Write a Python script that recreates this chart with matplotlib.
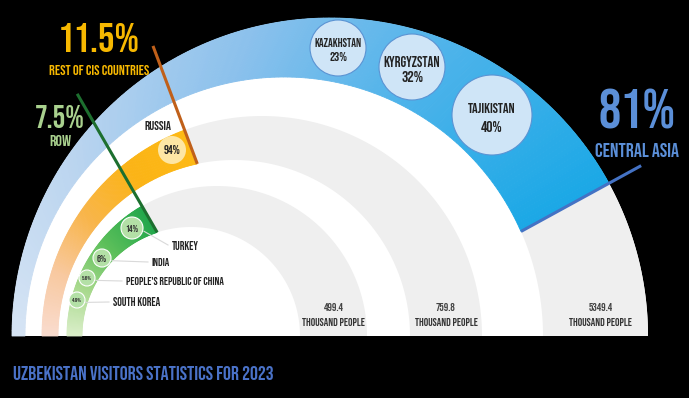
import numpy as np
import matplotlib
matplotlib.use('Agg')
import matplotlib.pyplot as plt
from matplotlib.colors import LinearSegmentedColormap
from matplotlib.patches import Polygon, Circle
from matplotlib import font_manager

# a tall narrow face if one is installed, else DejaVu
_names = {f.name for f in font_manager.fontManager.ttflist}
COND = 'DejaVu Sans'
for _n in ['Bebas Neue', 'Oswald', 'Barlow Condensed', 'Archivo Narrow',
           'Liberation Sans Narrow']:
    if _n in _names:
        COND = _n
        break

# ---- data ----
ring_labels = ['ROW', 'REST OF CIS COUNTRIES', 'CENTRAL ASIA']
ring_share = [7.5, 11.5, 81]
ring_people = [499.4, 759.8, 5349.4]

ca_countries = ['KAZAKHSTAN', 'KYRGYZSTAN', 'TAJIKISTAN']
ca_pct = [23, 32, 40]
cis_countries = ['RUSSIA']
cis_pct = [94]
row_countries = ['TURKEY', 'INDIA', "PEOPLE'S REPUBLIC OF CHINA", 'SOUTH KOREA']
row_pct = ['14%', '6%', '5.6%', '4.9%']

title = 'UZBEKISTAN VISITORS STATISTICS FOR 2023'

# ---- layout (pixel space, y down) ----
CY = 336
ring_outer = [(217, 150), (262, 220), (330, 318)]
ring_inner = [(191, 109), (234, 176), (284, 259)]
ring_end = [120, 110.6, 28.7]
ring_cols = [['#dcefcb', '#a8d98d', '#5cbf5a', '#22a74b'],
             ['#f9dccf', '#f8c9a0', '#f8b54a', '#fbb416', '#fdb913'],
             ['#d6e4f4', '#b9d4ef', '#8cc1ec', '#4db3ea', '#1ba8e6']]
line_cols = ['#1d6f2f', '#c0601a', '#4472c4']
line_len = [160, 126, 137]
big_cols = ['#a9d18e', '#f7b800', '#5b8fd8']
big_pos = [(60, 117, 140), (99, 37, 70), (637, 109, 150)]
big_w = [50, 82, 85]
lab_w = [22, 100, 84]

ca_xy = [(338, 48), (412, 67), (492, 115)]
ca_r = [28, 33, 40]
ca_w = [47, 57, 48]
cis_xy = [(172, 150)]
cis_r = [14]
row_xy = [(132, 228), (102, 258), (87, 278), (77, 300)]
row_r = [11, 9, 8, 8]
row_vw = [13, 10, 10, 10]
row_txt = [(172, 245), (152, 262), (126, 281), (113, 302)]
row_w = [27, 18, 97, 47]


def arc(cx, r, a0, a1, n=40):
    t = np.radians(np.linspace(a0, a1, n))
    return np.column_stack([cx + r * np.cos(t), CY - r * np.sin(t)])


def inner_end(xo, xi, r, te):
    # where the ray from the outer centre meets the inner circle
    d = np.array([np.cos(np.radians(te)), -np.sin(np.radians(te))])
    w = np.array([xo - xi, 0.0])
    b = w @ d
    lam = -b + np.sqrt(b * b - w @ w + r * r)
    p = np.array([xo, CY]) + lam * d
    return p, np.degrees(np.arctan2(CY - p[1], p[0] - xi)), d


fig = plt.figure(figsize=(6.89, 3.98), dpi=100, facecolor='black')
ax = fig.add_axes([0, 0, 1, 1])
ax.set_xlim(0, 689)
ax.set_ylim(398, 0)
ax.axis('off')
ax.set_facecolor('black')
renderer = fig.canvas.get_renderer()


def fit(x, y, s, width, maxfs=40, **kw):
    # size the text so it is about as wide as in the reference
    t = ax.text(x, y, s, family=COND, fontsize=20, **kw)
    bb = t.get_window_extent(renderer)
    t.set_fontsize(min(maxfs, 20 * width / bb.width))
    return t


xo, R = ring_outer[2]
ax.add_patch(Polygon(arc(xo, R, 0, 180, 200), closed=True, fc='white', ec='none'))

for i in range(3):
    xo, R = ring_outer[i]
    xi, r = ring_inner[i]
    te = ring_end[i]
    p, ti, d = inner_end(xo, xi, r, te)
    cmap = LinearSegmentedColormap.from_list('g%d' % i, ring_cols[i])
    N = 160
    s = np.linspace(0, 1, N + 1)
    for k in range(N):
        ao = 180 + s[k:k + 2] * (te - 180)
        ai = 180 + s[k:k + 2] * (ti - 180)
        pts = np.vstack([arc(xo, R, ao[0], ao[1], 3), arc(xi, r, ai[1], ai[0], 3)])
        c = cmap((s[k] + s[k + 1]) / 2)
        ax.add_patch(Polygon(pts, closed=True, fc=c, ec=c, lw=0.6))
    pts = np.vstack([arc(xo, R, te, 0, 80), arc(xi, r, 0, ti, 80)])
    ax.add_patch(Polygon(pts, closed=True, fc='#efefef', ec='none'))
    q = p + line_len[i] * d
    ax.plot([p[0], q[0]], [p[1], q[1]], color=line_cols[i], lw=2.2,
            solid_capstyle='butt', zorder=5)

    # value under each ring
    xm = (xi + r + xo + R) / 2 + (5 if i == 2 else 0)
    t = fit(xm, 322, 'THOUSAND PEOPLE', 62, ha='center', va='center',
            color='#333333')
    ax.text(xm, 307, f'{ring_people[i]:.1f}', ha='center', va='center',
            fontsize=t.get_fontsize(), color='#444444', family=COND)

    # big share labels
    bx, by, ly = big_pos[i]
    fit(bx, by, f'{ring_share[i]:g}%', big_w[i], ha='center', va='center',
        color=big_cols[i])
    fit(bx, ly, ring_labels[i], lab_w[i], ha='center', va='center',
        color=big_cols[i], fontweight='bold')

# central asia bubbles
for (x, y), rr, w, nm, v in zip(ca_xy, ca_r, ca_w, ca_countries, ca_pct):
    ax.add_patch(Circle((x, y), rr, fc='#cfe5f7', ec='#5b93d3', lw=0.8, zorder=6))
    t = fit(x, y - rr * 0.18, nm, w, ha='center', va='center',
            color='#222222', fontweight='bold', zorder=7)
    ax.text(x, y + rr * 0.3, f'{v}%', ha='center', va='center',
            fontsize=t.get_fontsize() * 1.1, color='#222222', family=COND, zorder=7)

# russia
for (x, y), rr, nm, v in zip(cis_xy, cis_r, cis_countries, cis_pct):
    ax.add_patch(Circle((x, y), rr, fc='#fde6a4', ec='none', zorder=6))
    fit(x, y, f'{v}%', 17, ha='center', va='center', color='#222222', zorder=7)
    fit(x - 14, y - 25, nm, 27, ha='center', va='center', color='#222222', zorder=7)

# rest of world
for (x, y), rr, vw, nm, v, (tx, ty), w in zip(row_xy, row_r, row_vw, row_countries,
                                              row_pct, row_txt, row_w):
    ax.plot([x + rr + 1, tx - 4], [y + rr * 0.3, ty], color='#d9d9d9', lw=0.8, zorder=5)
    ax.add_patch(Circle((x, y), rr, fc='#b3e0a6', ec='#ffffff', lw=0.8, zorder=6))
    fit(x, y, v, vw, ha='center', va='center', color='#333333', zorder=7)
    fit(tx, ty, nm, w, ha='left', va='center', color='#222222', zorder=7)

fit(13, 373, title, 262, ha='left', va='center', color='#4a72c8',
    fontweight='bold')

fig.savefig('out.png', dpi=100, facecolor='black')
